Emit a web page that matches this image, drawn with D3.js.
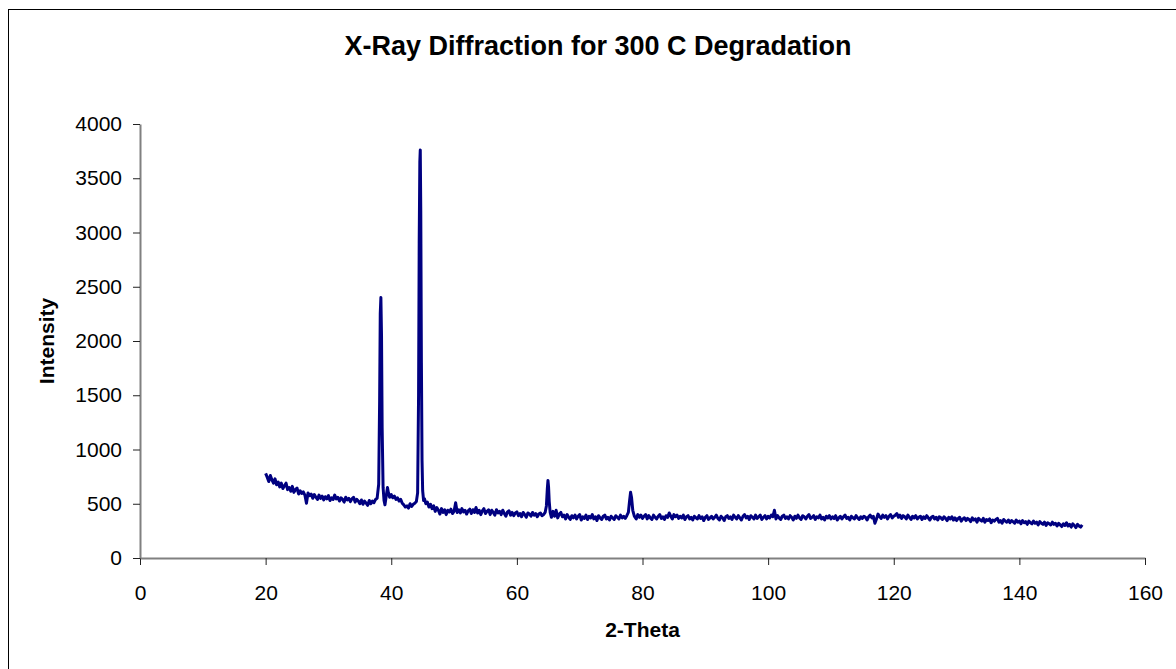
<!DOCTYPE html>
<html>
<head>
<meta charset="utf-8">
<script src="https://cdn.jsdelivr.net/npm/d3@7"></script>
<style>
  body { margin: 0; background: #fff; }
  text { font-family: "Liberation Sans", Arial, sans-serif; }
</style>
</head>
<body>
<div id="chart"></div>
<script>
// values, one row of twoTheta per row of intensity
const twoTheta = [
  20.00, 20.25, 20.50, 20.75, 21.00, 21.25, 21.50, 21.75, 22.00, 22.25,
  22.50, 22.75, 23.00, 23.25, 23.50, 23.75, 24.00, 24.25, 24.50, 24.75,
  25.00, 25.25, 25.50, 25.75, 26.00, 26.25, 26.50, 26.75, 27.00, 27.25,
  27.50, 27.75, 28.00, 28.25, 28.50, 28.75, 29.00, 29.25, 29.50, 29.75,
  30.00, 30.25, 30.50, 30.75, 31.00, 31.25, 31.50, 31.75, 32.00, 32.25,
  32.50, 32.75, 33.00, 33.25, 33.50, 33.75, 34.00, 34.25, 34.50, 34.75,
  35.00, 35.25, 35.50, 35.75, 36.00, 36.25, 36.50, 36.75, 37.00, 37.25,
  37.50, 37.75, 38.00, 38.15, 38.25, 38.35, 38.45, 38.55, 38.70, 38.85,
  39.00, 39.20, 39.40, 39.55, 39.75, 40.00, 40.25, 40.50, 40.75, 41.00,
  41.25, 41.50, 41.75, 42.00, 42.25, 42.50, 42.75, 43.00, 43.25, 43.50,
  43.75, 44.00, 44.20, 44.35, 44.45, 44.55, 44.62, 44.70, 44.80, 44.90,
  45.00, 45.15, 45.30, 45.50, 45.75, 46.00, 46.25, 46.50, 46.75, 47.00,
  47.25, 47.50, 47.75, 48.00, 48.25, 48.50, 48.75, 49.00, 49.25, 49.50,
  49.75, 50.00, 50.25, 50.50, 50.75, 51.00, 51.25, 51.50, 51.75, 52.00,
  52.25, 52.50, 52.75, 53.00, 53.25, 53.50, 53.75, 54.00, 54.25, 54.50,
  54.75, 55.00, 55.25, 55.50, 55.75, 56.00, 56.25, 56.50, 56.75, 57.00,
  57.25, 57.50, 57.75, 58.00, 58.25, 58.50, 58.75, 59.00, 59.25, 59.50,
  59.75, 60.00, 60.25, 60.50, 60.75, 61.00, 61.25, 61.50, 61.75, 62.00,
  62.25, 62.50, 62.75, 63.00, 63.25, 63.50, 63.75, 64.00, 64.25, 64.50,
  64.70, 64.85, 64.95, 65.05, 65.15, 65.30, 65.50, 65.75, 66.00, 66.25,
  66.50, 66.75, 67.00, 67.25, 67.50, 67.75, 68.00, 68.25, 68.50, 68.75,
  69.00, 69.25, 69.50, 69.75, 70.00, 70.25, 70.50, 70.75, 71.00, 71.25,
  71.50, 71.75, 72.00, 72.25, 72.50, 72.75, 73.00, 73.25, 73.50, 73.75,
  74.00, 74.25, 74.50, 74.75, 75.00, 75.25, 75.50, 75.75, 76.00, 76.25,
  76.50, 76.75, 77.00, 77.25, 77.50, 77.75, 77.95, 78.10, 78.25, 78.45,
  78.70, 79.00, 79.25, 79.50, 79.75, 80.00, 80.25, 80.50, 80.75, 81.00,
  81.25, 81.50, 81.75, 82.00, 82.25, 82.50, 82.75, 83.00, 83.25, 83.50,
  83.75, 84.00, 84.25, 84.50, 84.75, 85.00, 85.25, 85.50, 85.75, 86.00,
  86.25, 86.50, 86.75, 87.00, 87.25, 87.50, 87.75, 88.00, 88.25, 88.50,
  88.75, 89.00, 89.25, 89.50, 89.75, 90.00, 90.25, 90.50, 90.75, 91.00,
  91.25, 91.50, 91.75, 92.00, 92.25, 92.50, 92.75, 93.00, 93.25, 93.50,
  93.75, 94.00, 94.25, 94.50, 94.75, 95.00, 95.25, 95.50, 95.75, 96.00,
  96.25, 96.50, 96.75, 97.00, 97.25, 97.50, 97.75, 98.00, 98.25, 98.50,
  98.75, 99.00, 99.25, 99.50, 99.75, 100.00, 100.25, 100.50, 100.75, 101.00,
  101.25, 101.50, 101.75, 102.00, 102.25, 102.50, 102.75, 103.00, 103.25, 103.50,
  103.75, 104.00, 104.25, 104.50, 104.75, 105.00, 105.25, 105.50, 105.75, 106.00,
  106.25, 106.50, 106.75, 107.00, 107.25, 107.50, 107.75, 108.00, 108.25, 108.50,
  108.75, 109.00, 109.25, 109.50, 109.75, 110.00, 110.25, 110.50, 110.75, 111.00,
  111.25, 111.50, 111.75, 112.00, 112.25, 112.50, 112.75, 113.00, 113.25, 113.50,
  113.75, 114.00, 114.25, 114.50, 114.75, 115.00, 115.25, 115.50, 115.75, 116.00,
  116.25, 116.50, 116.75, 117.00, 117.25, 117.50, 117.75, 118.00, 118.25, 118.50,
  118.75, 119.00, 119.25, 119.50, 119.75, 120.00, 120.25, 120.50, 120.75, 121.00,
  121.25, 121.50, 121.75, 122.00, 122.25, 122.50, 122.75, 123.00, 123.25, 123.50,
  123.75, 124.00, 124.25, 124.50, 124.75, 125.00, 125.25, 125.50, 125.75, 126.00,
  126.25, 126.50, 126.75, 127.00, 127.25, 127.50, 127.75, 128.00, 128.25, 128.50,
  128.75, 129.00, 129.25, 129.50, 129.75, 130.00, 130.25, 130.50, 130.75, 131.00,
  131.25, 131.50, 131.75, 132.00, 132.25, 132.50, 132.75, 133.00, 133.25, 133.50,
  133.75, 134.00, 134.25, 134.50, 134.75, 135.00, 135.25, 135.50, 135.75, 136.00,
  136.25, 136.50, 136.75, 137.00, 137.25, 137.50, 137.75, 138.00, 138.25, 138.50,
  138.75, 139.00, 139.25, 139.50, 139.75, 140.00, 140.25, 140.50, 140.75, 141.00,
  141.25, 141.50, 141.75, 142.00, 142.25, 142.50, 142.75, 143.00, 143.25, 143.50,
  143.75, 144.00, 144.25, 144.50, 144.75, 145.00, 145.25, 145.50, 145.75, 146.00,
  146.25, 146.50, 146.75, 147.00, 147.25, 147.50, 147.75, 148.00, 148.25, 148.50,
  148.75, 149.00, 149.25, 149.50, 149.75, 150.00
];

const intensity = [
  780, 745, 705, 760, 720, 690, 730, 675, 700, 655,
  690, 640, 665, 690, 630, 650, 615, 660, 605, 630,
  645, 590, 620, 595, 610, 580, 505, 600, 575, 590,
  550, 585, 560, 540, 580, 550, 570, 535, 565, 545,
  575, 530, 555, 540, 580, 545, 560, 525, 555, 540,
  515, 560, 535, 550, 520, 545, 560, 515, 540, 525,
  500, 535, 495, 525, 505, 485, 530, 500, 525, 510,
  540, 550, 680, 1450, 2250, 2400, 2050, 1200, 650, 530,
  490, 570, 650, 600, 560, 585, 555, 570, 540, 555,
  525, 540, 505, 490, 470, 480, 460, 500, 475, 495,
  505, 520, 600, 1500, 2900, 3650, 3760, 3200, 1800, 900,
  620, 530, 545, 500, 515, 470, 495, 455, 480, 430,
  465, 440, 405, 455, 420, 445, 400, 440, 425, 450,
  410, 430, 510, 420, 445, 415, 455, 425, 440, 405,
  435, 450, 410, 445, 420, 465, 415, 440, 400, 435,
  455, 410, 430, 445, 400, 440, 420, 395, 445, 415,
  430, 400, 440, 410, 385, 425, 435, 395, 420, 390,
  415, 425, 390, 410, 380, 420, 400, 375, 415, 405,
  385, 420, 395, 410, 380, 405, 415, 390, 400, 420,
  480, 640, 715, 650, 520, 420, 375, 430, 385, 440,
  370, 405, 420, 380, 395, 360, 400, 375, 355, 390,
  370, 395, 360, 385, 400, 350, 380, 365, 395, 355,
  385, 370, 400, 360, 380, 345, 390, 370, 355, 385,
  395, 360, 375, 350, 385, 370, 355, 390, 375, 360,
  395, 370, 385, 365, 390, 420, 530, 605, 560, 440,
  385, 360, 400, 375, 395, 365, 385, 400, 360, 390,
  370, 355, 395, 375, 360, 385, 400, 365, 380, 355,
  390, 375, 415, 385, 360, 400, 380, 395, 365, 385,
  370, 395, 355, 380, 390, 360, 375, 350, 385, 370,
  360, 390, 365, 380, 345, 375, 390, 355, 370, 385,
  360, 375, 395, 365, 350, 385, 370, 345, 380, 390,
  365, 380, 355, 395, 375, 360, 390, 370, 350, 385,
  400, 370, 385, 355, 390, 375, 360, 395, 365, 380,
  395, 355, 375, 390, 360, 385, 370, 395, 380, 440,
  360, 390, 370, 355, 385, 395, 365, 380, 360, 390,
  375, 350, 385, 365, 395, 370, 355, 390, 380, 360,
  385, 400, 365, 375, 390, 355, 380, 370, 395, 360,
  375, 350, 385, 370, 390, 360, 380, 365, 390, 350,
  370, 385, 360, 380, 395, 365, 375, 350, 385, 370,
  360, 390, 370, 355, 380, 365, 385, 375, 350, 380,
  395, 370, 385, 320, 360, 405, 380, 365, 395, 375,
  390, 360, 385, 400, 370, 385, 395, 410, 375, 395,
  365, 390, 380, 360, 395, 375, 355, 385, 370, 390,
  360, 375, 385, 355, 380, 365, 390, 370, 350, 375,
  385, 360, 375, 350, 380, 370, 355, 380, 365, 345,
  375, 360, 380, 350, 370, 345, 365, 375, 340, 360,
  370, 345, 365, 355, 335, 370, 350, 360, 330, 365,
  350, 340, 365, 330, 355, 345, 360, 325, 350, 340,
  355, 365, 330, 345, 320, 355, 340, 330, 350, 325,
  345, 335, 320, 350, 330, 340, 315, 345, 325, 335,
  310, 340, 325, 315, 340, 320, 330, 305, 335, 320,
  310, 330, 300, 325, 315, 305, 330, 310, 320, 295,
  320, 305, 290, 315, 300, 325, 295, 310, 285, 315,
  300, 280, 310, 295, 285, 305
];

const yTicks = [0, 500, 1000, 1500, 2000, 2500, 3000, 3500, 4000];
const xTicks = [0, 20, 40, 60, 80, 100, 120, 140, 160];

const chartTitle = "X-Ray Diffraction for 300 C Degradation";
const xTitle = "2-Theta";
const yTitle = "Intensity";

const width = 1176, height = 669;
const plot = { left: 140, right: 1145, top: 124, bottom: 558 };

const svg = d3.select("#chart").append("svg")
  .attr("width", width)
  .attr("height", height);

// outer chart border (right and bottom edges fall outside the picture)
svg.append("rect")
  .attr("x", 8.5)
  .attr("y", 9.5)
  .attr("width", width + 20)
  .attr("height", height + 20)
  .attr("fill", "none")
  .attr("stroke", "#000")
  .attr("stroke-width", 1);

const x = d3.scaleLinear().domain([0, 160]).range([plot.left, plot.right]);
const y = d3.scaleLinear().domain([0, 4000]).range([plot.bottom, plot.top]);

const xAxis = svg.append("g")
  .attr("transform", `translate(0,${plot.bottom})`)
  .call(d3.axisBottom(x).tickValues(xTicks).tickSize(7).tickSizeOuter(0).tickPadding(20).tickFormat(d3.format("d")));

const yAxis = svg.append("g")
  .attr("transform", `translate(${plot.left},0)`)
  .call(d3.axisLeft(y).tickValues(yTicks).tickSize(7).tickSizeOuter(0).tickPadding(11).tickFormat(d3.format("d")));

[xAxis, yAxis].forEach(g => {
  g.select(".domain").attr("stroke", "#808080").attr("stroke-width", 2);
  g.selectAll(".tick line").attr("stroke", "#222").attr("stroke-width", 1);
  g.selectAll(".tick text")
    .attr("fill", "#000")
    .attr("font-size", "21px")
    .attr("font-family", "'Liberation Sans', Arial, sans-serif");
});

const points = twoTheta.map((t, i) => ({ t: t, v: intensity[i] }));

const line = d3.line()
  .x(d => x(d.t))
  .y(d => y(d.v));

svg.append("path")
  .datum(points)
  .attr("fill", "none")
  .attr("stroke", "#000080")
  .attr("stroke-width", 3)
  .attr("stroke-linejoin", "round")
  .attr("d", line);

svg.append("text")
  .attr("x", 598)
  .attr("y", 55)
  .attr("text-anchor", "middle")
  .attr("font-size", "27px")
  .attr("font-weight", "bold")
  .text(chartTitle);

svg.append("text")
  .attr("x", (plot.left + plot.right) / 2)
  .attr("y", 637)
  .attr("text-anchor", "middle")
  .attr("font-size", "21px")
  .attr("font-weight", "bold")
  .text(xTitle);

svg.append("text")
  .attr("transform", `translate(54,${(plot.top + plot.bottom) / 2}) rotate(-90)`)
  .attr("text-anchor", "middle")
  .attr("font-size", "21px")
  .attr("font-weight", "bold")
  .text(yTitle);
</script>
</body>
</html>
